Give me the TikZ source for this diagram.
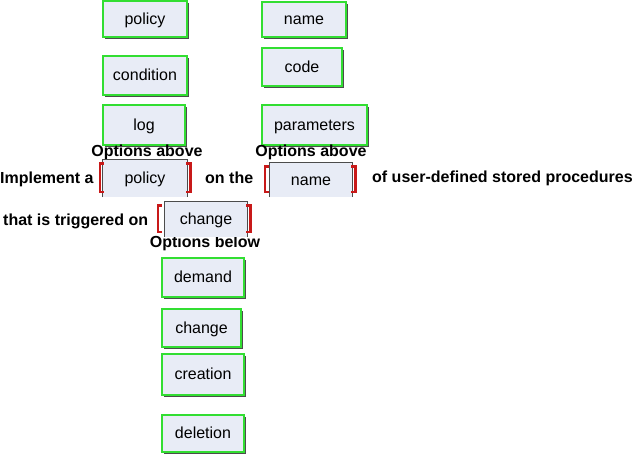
\documentclass[tikz,border=0pt]{standalone}
\usepackage{fontspec}
\setmainfont{Liberation Sans}
\usetikzlibrary{shadows}
\definecolor{boxFill}{RGB}{232,236,246}
\definecolor{boxGreen}{RGB}{50,222,50}
\definecolor{brkRed}{RGB}{200,25,25}
\begin{document}
\begin{tikzpicture}
[x=1pt,y=-1pt,
  optDecorate/.style={shape=rectangle,inner sep=0pt,fill=boxFill,draw=boxGreen,line width=2.3pt,
    text height=14pt,text depth=3pt,font=\fontsize{16pt}{19pt}\selectfont,
    drop shadow={shadow xshift=2pt,shadow yshift=-2pt,fill=black!70,opacity=1}},%
  slotDecorate/.style={shape=rectangle,inner sep=0pt,fill=boxFill,
    text height=14pt,text depth=3pt,font=\fontsize{16pt}{19pt}\selectfont},%
  slotEdge/.style={draw=black!70,line width=0.8pt},%
  bracketDecorate/.style={draw=brkRed,line width=2.6pt},%
  wordDecorate/.style={inner sep=0pt,font=\fontsize{16pt}{19pt}\selectfont\bfseries}]
\useasboundingbox (0,0) rectangle (641,465);
%% option boxes
\foreach \nodename/\x/\y/\w/\h/\txt in {
  optPolicy/145/19/84/36/policy, optCondition/145/75.5/84/39/condition,
  optLog/144/125/82/40/log, optName/304/19.5/84/35/name,
  optCode/302/67/80/38/code, optParameters/314.5/125/105/40/parameters,
  optDemand/203/277.5/82/39/demand, optChange/201.5/328/79/38/change,
  optCreation/203/374.5/82/41/creation, optDeletion/203/433.5/82/37/deletion}
{
  \node (\nodename) at (\x,\y) [optDecorate,minimum width=\w pt,minimum height=\h pt] {\txt};
}
%% sentence words
\foreach \nodename/\x/\y/\txt in {
  wImplement/0/184/Implement a, wOnThe/205/184/on the,
  wStored/372/183/of user-defined stored procedures, wTriggered/3/226/that is triggered on}
{
  \node (\nodename) at (\x,\y) [wordDecorate,anchor=base west] {\txt};
}
\foreach \nodename/\x/\y/\txt in {
  hAbovePolicy/147/157/Options above, hAboveName/311/157/Options above,
  hBelowChange/205/248/Options below}
{
  \node (\nodename) at (\x,\y) [wordDecorate,anchor=base] {\txt};
}
%% slots with brackets
\foreach \nodename/\x/\y/\w/\h/\g/\txt in {
  slotPolicy/145/178.5/84/37/3/policy, slotName/311/180/82/34/5/name,
  slotChange/206/219.5/82/35/7/change}
{
  \node (\nodename) at (\x,\y) [slotDecorate,minimum width=\w pt,minimum height=\h pt] {\txt};
  \draw[slotEdge] (\nodename.south west) |- (\nodename.north east) -- (\nodename.south east);
  \draw[bracketDecorate] ([shift={(-\g pt+4pt,-4pt)}]\nodename.north west) -- ++(-4pt,0)
    -- ([shift={(-\g pt,5pt)}]\nodename.south west) -- ++(4pt,0);
  \draw[bracketDecorate] ([shift={(-1pt,-4pt)}]\nodename.north east) -- ++(4pt,0)
    -- ([shift={(3pt,5pt)}]\nodename.south east) -- ++(-4pt,0);
}
\end{tikzpicture}
\end{document}
